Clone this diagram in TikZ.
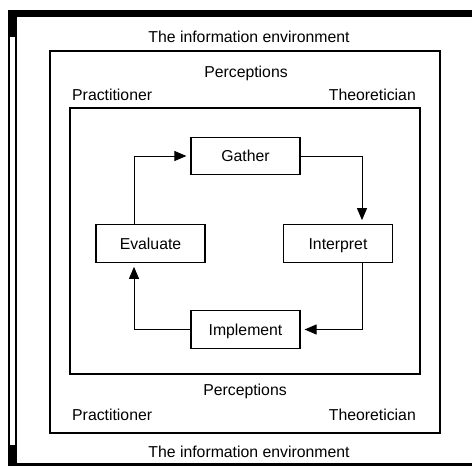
\documentclass[tikz,border=0pt]{standalone}
\usepackage{fontspec}
\setmainfont{Liberation Sans}
\usetikzlibrary{arrows.meta}
\begin{document}
\begin{tikzpicture}[x=1pt,y=-1pt,
  every node/.style={font=\fontsize{15.8}{19}\selectfont},
  stepbox/.style={draw,line width=1.2pt,minimum width=109pt,minimum height=37.5pt,inner sep=0pt,text height=11.5pt,text depth=0pt},
  frame/.style={draw,line width=1.3pt},
  conn/.style={line width=1pt,-{Triangle[length=12pt,width=10pt]},shorten >=4pt},
  lbl/.style={anchor=base,inner sep=0pt}]
\useasboundingbox (0,0) rectangle (472,469);
% outer frame
\fill (8,10) rectangle (472,17);
\fill (8,10) rectangle (17,37);
\fill (8,445) rectangle (17,466);
\fill (8,463) rectangle (472,466);
\fill (8,10) rectangle (10,466);
\fill (15,10) rectangle (17,466);
% frames
\draw[frame] (50,51) rectangle (440,433);
\draw[frame] (70,108) rectangle (420,374);
% labels
\node[lbl] (t1) at (249,42) {The information environment};
\node[lbl] (p1) at (246,77) {Perceptions};
\node[lbl,anchor=base west] (pr1) at (72,100) {Practitioner};
\node[lbl,anchor=base east] (th1) at (416,100) {Theoretician};
\node[lbl] (p2) at (245,395) {Perceptions};
\node[lbl,anchor=base west] (pr2) at (72,420) {Practitioner};
\node[lbl,anchor=base east] (th2) at (416,420) {Theoretician};
\node[lbl] (t2) at (249,457) {The information environment};
% process boxes
\node[stepbox] (gather) at (245.5,156) {Gather};
\node[stepbox] (evaluate) at (150.5,243.5) {Evaluate};
\node[stepbox] (interpret) at (338,243.5) {Interpret};
\node[stepbox] (implement) at (245.5,329.5) {Implement};
% connectors
\draw[conn] ([xshift=-16.5pt]evaluate.north) |- (gather.west);
\draw[conn] (gather.east) -| ([xshift=24pt]interpret.north);
\draw[conn] ([xshift=24pt]interpret.south) |- (implement.east);
\draw[conn] (implement.west) -| ([xshift=-16.5pt]evaluate.south);
\end{tikzpicture}
\end{document}
